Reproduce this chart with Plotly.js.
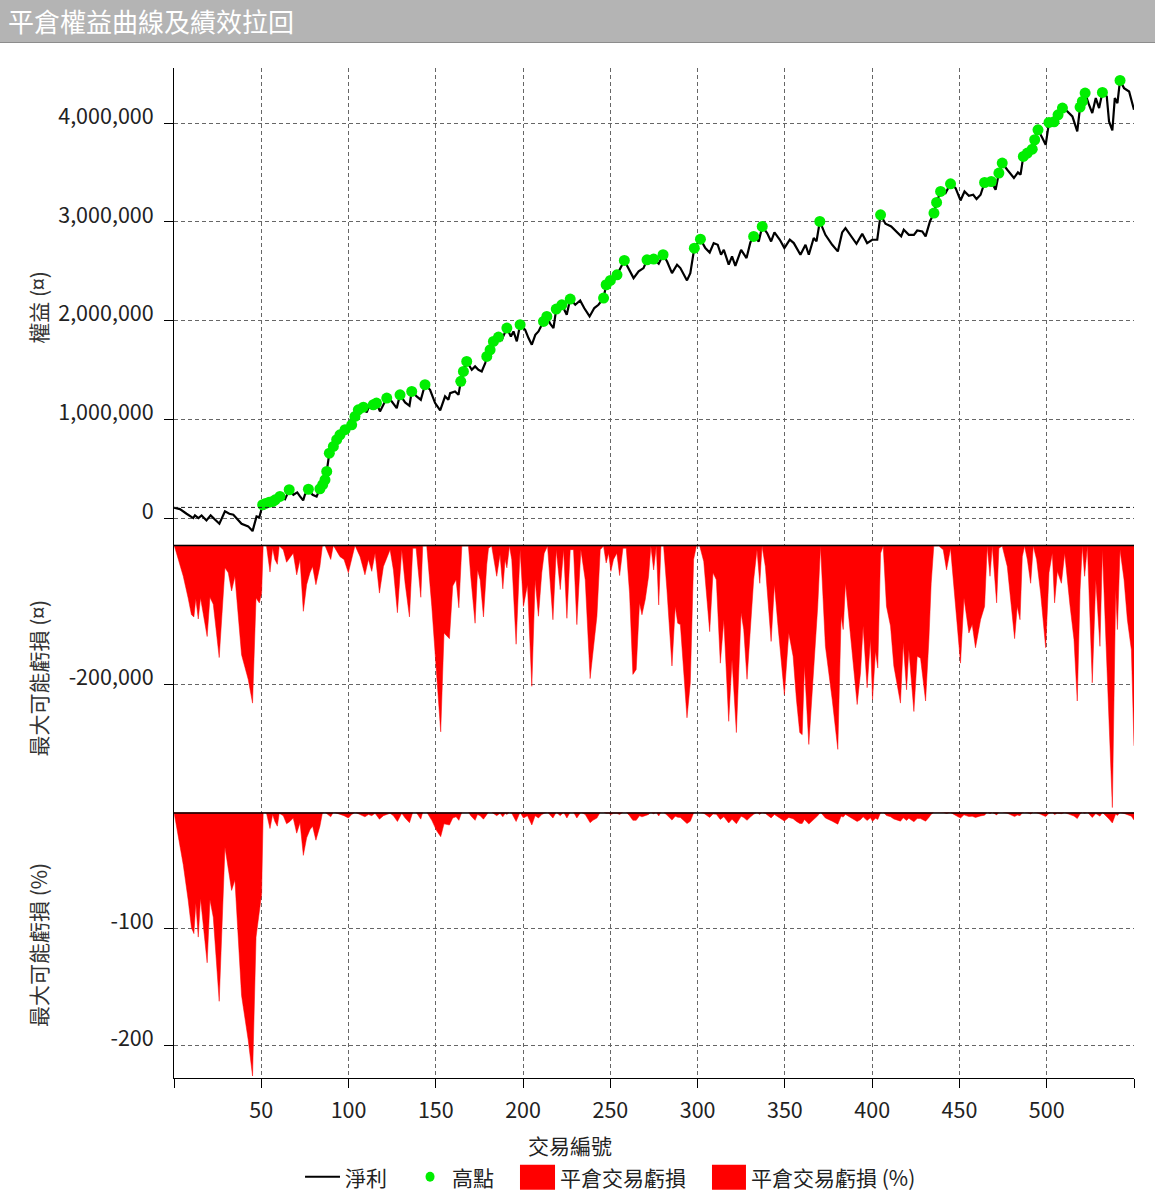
<!DOCTYPE html>
<html>
<head>
<meta charset="utf-8">
<script src="https://cdn.plot.ly/plotly-3.0.1.min.js"></script>
<style>
body{margin:0;background:#fff;}
#hdr{height:42px;line-height:42px;background:#b4b4b4;border-bottom:1px solid #8c8c8c;color:#fff;
  font-family:"Noto Sans CJK TC",sans-serif;font-size:26px;padding-left:8px;}
#chart{width:1155px;height:1157px;}
</style>
</head>
<body>
<div id="hdr">平倉權益曲線及績效拉回</div>
<div id="chart"></div>
<script>
// equity curve (trade no. / equity in thousands)
var eqX = [
 0,3.4,7.2,11,12,14,15.8,18.6,21,26,
 29.2,31.7,34,38.7,42.5,45,47.3,48.9,50.8,52.5,
 54.5,56.5,58,60.7,63.6,66,68.4,70.6,72.2,74,
 75,77,79.4,81.7,83.6,85.2,86.5,87.5,89,91.3,
 93.2,95.1,98,99.9,101.8,103.7,105.6,108.5,110.4,111.4,
 114.2,116,118,121.9,124.7,127.6,129.5,132.4,134.9,136.2,
 139,141.4,143.8,146.7,149.6,152.5,155.3,157.2,158.2,161,
 163,164.3,165.8,167.7,170.6,172.5,174.4,176.3,178.3,179.2,
 181.1,183,185.9,187.8,190.7,193,194.5,196.4,198.3,201.2,
 203.1,205,207,208.8,211.7,213.6,215.5,217.4,219,222.2,
 225,227,229.9,232.7,235,238.1,240.8,243.2,246.1,247.6,
 250,253.8,258,260.4,263.3,266.2,269,271,274.8,277.7,
 280.2,282.5,285.3,288.2,290.1,293.9,295.8,298.1,301.6,304.4,
 306.9,309.2,311.5,313.4,315,317.8,319.7,321.6,324.9,328,
 330.2,332.1,335,337,339.8,342.1,344,347.1,349.7,352.8,
 355.1,358.9,361.8,363.7,366.5,368.1,370,373.2,377.1,380.3,
 382.8,384.7,387.6,391,394.3,397.1,400,402.9,404.8,407.6,
 410.9,414.3,416.6,418.1,421,423.9,425.8,428.7,430.6,433.1,
 435.4,436.9,439.2,442,444.9,447.8,450.6,452.9,455.4,457.9,
 459.8,462.1,464.4,468.2,470.7,472.6,474.5,477.4,481.2,483.5,
 485,486.6,488.9,491.7,493.1,495,497.5,499.4,501.3,504.2,
 506.5,509,511.8,514.7,517.5,519.1,520.4,522,524.2,526.1,
 528.1,530,531.9,534.4,535.7,537.6,539,540.5,542,544.3,
 547.2,550
];
var eqK = [
 105,91,44,0,27,0,27,-24,27,-57,
 68,44,34,-57,-84,-132,17,7,135,148,
 160,168,185,219,192,287,236,260,219,179,
 236,292,236,219,296,338,388,473,658,726,
 794,844,895,878,945,1030,1097,1124,1070,1114,
 1148,1165,1081,1216,1182,1114,1249,1172,1138,1283,
 1233,1199,1351,1300,1165,1091,1233,1199,1266,1283,
 1249,1385,1486,1587,1503,1537,1503,1486,1570,1638,
 1705,1790,1834,1807,1925,1840,1891,1790,1959,1908,
 1824,1756,1857,1891,1992,2043,1969,1925,2117,2161,
 2060,2219,2161,2205,2128,2043,2128,2161,2229,2364,
 2408,2465,2610,2533,2431,2499,2533,2617,2624,2577,
 2668,2600,2482,2567,2533,2408,2482,2735,2826,2735,
 2691,2786,2769,2668,2718,2567,2651,2556,2718,2634,
 2793,2854,2803,2955,2887,2803,2894,2820,2735,2820,
 2786,2668,2769,2668,2837,2803,3006,2870,2769,2702,
 2894,2938,2870,2779,2881,2786,2820,2820,3073,2982,
 2955,2894,2854,2921,2870,2870,2914,2904,2854,3006,
 3090,3198,3309,3293,3387,3343,3218,3309,3266,3276,
 3232,3276,3400,3410,3326,3495,3597,3529,3445,3502,
 3479,3664,3698,3738,3833,3934,3850,3782,4008,4015,
 4086,4154,4120,4069,3917,4164,4221,4306,4188,4103,
 4255,4154,4312,4272,4019,3927,4255,4204,4434,4356,
 4322,4137
];
var startLevel = 108000;

// max possible loss per trade (thousands) and in percent
var ddX = [
 0,5.3,8.1,10,11.4,12.5,13.9,15.2,19,20.6,
 22.5,25.9,29.2,31.1,33,34.9,38.7,42.5,45,47,
 48.9,50.2,51.1,53,55,56.5,57.8,59.2,60.3,62.6,
 64.5,66.4,68.3,70.3,72.2,74.1,76,77.9,79.4,81.3,
 83.6,85,86.5,89.8,91.3,95.1,97.4,99.9,101.8,103.7,
 106.6,109.4,111.4,113.3,115.2,117.7,120,121.9,123.8,125.7,
 128,130.5,132.4,134.9,136.8,138.7,140,141.4,142.5,144.8,
 147.7,150.5,152.8,154.7,157.8,159.7,161.6,163.2,164.9,168.7,
 170,172.5,173.9,175.4,177.3,179.2,180.2,182,184.9,186.8,
 188.4,189.7,190.7,192.2,193.5,196,198.3,200.2,202.5,205,
 206.9,208.8,210.7,212.1,214,217.1,219,221.3,223.2,225.1,
 227,228.9,230.8,233.1,235.6,238.4,240,242.3,244.2,246.1,
 247.6,249,250.3,251.8,253.7,255.3,257.2,259.1,261,262.9,
 264.8,266.7,268.1,270,271.9,273.2,274.8,276.3,277.7,279,
 280.5,282.4,285.3,287.2,288.6,290.1,293.9,295.8,297.7,299.3,
 301.2,303.5,306.9,308.8,310.7,313,315,317.8,319.7,322.2,
 324.9,326.4,328.3,330.2,332.1,334,335.6,336.9,338.8,342.1,
 344,345.9,348.4,349.7,352.2,354.7,356.6,358.5,359.9,361.2,
 363.7,366.2,367.5,368.8,370.4,373.2,377.1,380.3,382.2,383.4,
 384.7,387.6,391.4,393.3,394.8,397.1,399,400.2,401.9,403.2,
 404.8,406.3,408.2,410.5,412.4,416.2,417.8,419.7,421,423.9,
 425.8,427.7,430.6,432.5,433.8,435.3,438.2,440.7,442.6,444.9,
 446.8,448.7,450.6,452.6,455.4,457.3,459.2,462.1,464.4,465.9,
 467.5,468.8,471.3,472.6,474.5,477.4,479.3,481.6,483.1,484.7,
 486,487.3,488.9,490.8,492.3,494.2,496.5,499.4,501.3,503.2,
 504.5,506.1,508.4,510.3,513.3,515.6,517.5,519.1,520.4,521.7,
 523.3,526.1,528.1,530.5,531.9,533.8,535.7,537.6,539.5,540.5,
 542,544.3,546.2,548.5,550
];
var ddK = [
 0,-45,-76,-100,-103,-77,-106,-76,-131,-75,
 -85,-161,-33,-40,-66,-45,-157,-192,-226,-76,
 -83,-69,-1,-2,-39,-5,-21,-28,-2,-7,
 -25,-19,-12,-43,-21,-95,-57,-40,-31,-57,
 -31,-2,-1,-21,-1,-17,-21,-40,-21,-1,
 -17,-43,-21,-38,-12,-69,-31,-19,-7,-36,
 -97,-7,-55,-103,-5,-5,-36,-75,-2,-2,
 -88,-192,-267,-126,-134,-59,-50,-90,-2,-2,
 -45,-112,-36,-50,-103,-28,-5,-2,-45,-14,
 -63,-21,-33,-2,-21,-142,-7,-88,-57,-202,
 -50,-102,-40,-12,-2,-107,-7,-64,-7,-105,
 -7,-7,-114,-7,-50,-191,-154,-102,-7,-2,
 -26,-12,-38,-21,-12,-44,-5,-5,-69,-185,
 -178,-83,-100,-78,-45,-2,-36,-2,-86,-2,
 -2,-64,-173,-88,-112,-114,-247,-197,-21,-2,
 -2,-24,-124,-40,-50,-169,-107,-252,-164,-268,
 -97,-121,-192,-116,-50,-7,-55,-2,-31,-138,
 -57,-112,-173,-214,-126,-159,-221,-268,-271,-173,
 -285,-192,-145,-88,-2,-145,-221,-292,-102,-121,
 -55,-131,-228,-183,-116,-204,-135,-221,-152,-176,
 -12,-2,-88,-116,-173,-226,-140,-207,-150,-238,
 -159,-162,-223,-135,-55,-2,-2,-7,-36,-5,
 -64,-112,-169,-76,-126,-114,-147,-107,-88,-2,
 -45,-2,-83,-5,-2,-31,-78,-134,-88,-107,
 -17,-2,-21,-55,-2,-21,-69,-147,-40,-12,
 -83,-38,-55,-12,-86,-135,-223,-64,-2,-45,
 -2,-197,-50,-145,-7,-126,-245,-375,-64,-121,
 -7,-50,-107,-150,-287
];
var ddPct = [
 0,-45,-75,-99,-104,-78,-107,-74,-129,-75,
 -90,-162,-30,-48,-67,-58,-157,-195,-226,-107,
 -84,-70,0,-1,-14,-2,-8,-12,-1,-3,
 -10,-8,-5,-18,-9,-37,-22,-15,-12,-24,
 -12,-1,0,-4,0,-2,-3,-5,-2,0,
 -2,-4,-2,-3,-1,-6,-3,-2,-1,-3,
 -8,-1,-5,-9,0,0,-3,-6,0,0,
 -7,-16,-21,-10,-11,-5,-4,-7,0,0,
 -3,-7,-2,-3,-6,-2,0,0,-3,-1,
 -4,-1,-2,0,-1,-8,0,-5,-3,-11,
 -3,-5,-2,-1,0,-5,0,-3,0,-5,
 0,0,-5,0,-2,-9,-7,-5,0,0,
 -1,-1,-2,-1,-1,-2,0,0,-3,-7,
 -7,-3,-4,-3,-2,0,-1.4,0,-3.3,0,
 0,-2.5,-6.8,-3.4,-4.4,-4.5,-9.8,-7.8,-0.8,0,
 0,-0.9,-4.5,-1.5,-1.8,-6.2,-3.9,-9.3,-6,-9.9,
 -3.6,-4.5,-7,-4.2,-1.8,-0.3,-2,0,-1.1,-4.9,
 -2,-3.9,-6.1,-7.6,-4.5,-5.6,-7.9,-9.6,-9.7,-6.2,
 -10.2,-6.8,-5.1,-3.1,0,-5,-7.7,-10.3,-3.5,-4.2,
 -1.9,-4.6,-8,-6.4,-4,-7.1,-4.8,-7.8,-5.3,-6.2,
 -0.4,0,-2.9,-3.9,-5.8,-7.7,-4.8,-7.1,-5.2,-8.2,
 -5.4,-5.5,-7.7,-4.5,-1.8,0,0,-0.2,-1.1,-0.2,
 -1.9,-3.3,-5.1,-2.3,-3.8,-3.5,-4.5,-3.2,-2.6,0,
 -1.3,0,-2.4,-0.1,0,-0.9,-2.2,-3.8,-2.5,-3,
 -0.5,0,-0.6,-1.5,0,-0.5,-1.8,-3.8,-1,-0.3,
 -2.1,-0.9,-1.3,-0.3,-2.1,-3.3,-5.5,-1.5,0,-1,
 0,-4.6,-1.2,-3.4,-0.2,-2.9,-5.9,-9.3,-1.5,-2.8,
 -0.2,-1.1,-2.4,-3.4,-6.8
];

var xTicks = [0,50,100,150,200,250,300,350,400,450,500,550];
var xTickText = ['','50','100','150','200','250','300','350','400','450','500',''];
var eqTicks = [0,1000000,2000000,3000000,4000000];
var eqTickText = ['0','1,000,000','2,000,000','3,000,000','4,000,000'];
var legendNames = ['淨利', '高點', '平倉交易虧損', '平倉交易虧損 (%)'];

var FONT = '"Noto Sans CJK TC", "Noto Sans", sans-serif';
var GRID = '#666';
var GREEN = '#00ee00';
var RED = '#ff0000';

var eqY = eqK.map(function(v){ return v*1000; });
var ddY = ddK.map(function(v){ return v*1000; });

// new equity highs
var hiX = [], hiY = [];
var best = eqY[0];
for(var i = 1; i < eqY.length; i++){
	if(eqY[i] > best){
		best = eqY[i];
		hiX.push(eqX[i]);
		hiY.push(eqY[i]);
	}
}

var traceEq = {x: eqX, y: eqY, type: 'scatter', mode: 'lines', name: legendNames[0],
	line: {color: '#000', width: 2.2}, xaxis: 'x', yaxis: 'y'};
var traceHi = {x: hiX, y: hiY, type: 'scatter', mode: 'markers', name: legendNames[1],
	marker: {color: GREEN, size: 11}, xaxis: 'x', yaxis: 'y'};
var traceDD = {x: ddX, y: ddY, type: 'scatter', mode: 'lines', name: legendNames[2],
	fill: 'tozeroy', fillcolor: RED, line: {color: RED, width: 0.5}, xaxis: 'x', yaxis: 'y2'};
var tracePct = {x: ddX, y: ddPct, type: 'scatter', mode: 'lines', name: legendNames[3],
	fill: 'tozeroy', fillcolor: RED, line: {color: RED, width: 0.5}, xaxis: 'x', yaxis: 'y3'};

function yAxis(dom, rng, tv, tt){
	return {
		domain: dom, range: rng, tickvals: tv, ticktext: tt,
		ticks: 'outside', ticklen: 9, tickcolor: '#000',
		showline: true, linecolor: '#000', linewidth: 1,
		showgrid: true, gridcolor: GRID, griddash: '4px,3px', gridwidth: 1,
		zeroline: false, anchor: 'x', ticklabelstandoff: 6, ticklabelshift: -7,
		tickfont: {size: 21.5, color: '#222'}
	};
}

// legend is drawn by hand below the x axis (paper coords)
var LY = -0.0977;
var legendShapes = [
	{type: 'line', xref: 'paper', yref: 'paper', x0: 0.1365, x1: 0.1729, y0: LY, y1: LY,
		line: {color: '#000', width: 2}},
	{type: 'circle', xref: 'paper', yref: 'paper', xsizemode: 'pixel', ysizemode: 'pixel',
		xanchor: 0.2667, yanchor: LY, x0: -4.5, x1: 4.5, y0: -5, y1: 5,
		fillcolor: GREEN, line: {width: 0}},
	{type: 'rect', xref: 'paper', yref: 'paper', x0: 0.3604, x1: 0.3969, y0: -0.0858, y1: -0.1106,
		fillcolor: RED, line: {width: 0}},
	{type: 'rect', xref: 'paper', yref: 'paper', x0: 0.5604, x1: 0.5958, y0: -0.0858, y1: -0.1106,
		fillcolor: RED, line: {width: 0}}
];
var legendX = [0.176, 0.2875, 0.4, 0.599];
var legendNotes = legendNames.map(function(t, k){
	return {text: t, xref: 'paper', yref: 'paper', x: legendX[k], y: LY,
		xanchor: 'left', yanchor: 'middle', showarrow: false, font: {size: 21, color: '#222'}};
});

var layout = {
	width: 1155, height: 1157,
	margin: {l: 174, r: 21, t: 25, b: 122},
	paper_bgcolor: '#fff', plot_bgcolor: '#fff',
	font: {family: FONT, size: 21, color: '#222'},
	showlegend: false,
	xaxis: {
		range: [0, 550], tickvals: xTicks, ticktext: xTickText,
		ticks: 'outside', ticklen: 9, tickcolor: '#000',
		showline: true, linecolor: '#000', linewidth: 1,
		showgrid: true, gridcolor: GRID, griddash: '4px,3px', gridwidth: 1,
		zeroline: false, anchor: 'y3', ticklabelstandoff: 4,
		tickfont: {size: 21.5, color: '#222'}
	},
	yaxis: yAxis([0.528, 1], [-270000, 4560000], eqTicks, eqTickText),
	yaxis2: yAxis([0.2632, 0.528], [-381600, 0], [-200000], ['-200,000']),
	yaxis3: yAxis([0, 0.2632], [-227.7, 0], [-100, -200], ['-100', '-200']),
	shapes: [
		{type: 'line', xref: 'paper', x0: 0, x1: 1, yref: 'y', y0: startLevel, y1: startLevel,
			line: {color: '#222', width: 1, dash: '4px,3px'}},
		{type: 'line', xref: 'paper', x0: 0, x1: 1, yref: 'y2', y0: 0, y1: 0,
			line: {color: '#000', width: 3}},
		{type: 'line', xref: 'paper', x0: 0, x1: 1, yref: 'y3', y0: 0, y1: 0,
			line: {color: '#000', width: 3}}
	].concat(legendShapes),
	annotations: [
		{text: '權益 (¤)', xref: 'paper', yref: 'paper', x: -0.1417, y: 0.7636,
			xanchor: 'center', yanchor: 'middle',
			textangle: -90, showarrow: false, font: {size: 21, color: '#333'}},
		{text: '最大可能虧損 (¤)', xref: 'paper', yref: 'paper', x: -0.1417, y: 0.3966,
			xanchor: 'center', yanchor: 'middle',
			textangle: -90, showarrow: false, font: {size: 21, color: '#333'}},
		{text: '最大可能虧損 (%)', xref: 'paper', yref: 'paper', x: -0.1417, y: 0.1316,
			xanchor: 'center', yanchor: 'middle',
			textangle: -90, showarrow: false, font: {size: 21, color: '#333'}},
		{text: '交易編號', xref: 'paper', yref: 'paper', x: 0.4125, y: -0.066,
			xanchor: 'center', yanchor: 'middle',
			showarrow: false, font: {size: 21, color: '#222'}}
	].concat(legendNotes)
};

Plotly.newPlot('chart', [traceEq, traceHi, traceDD, tracePct], layout, {displayModeBar: false});
</script>
</body>
</html>
